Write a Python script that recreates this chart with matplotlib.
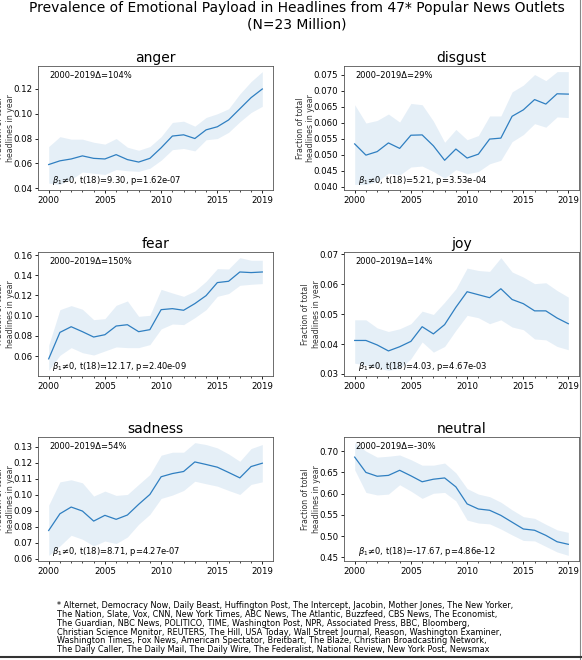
""" plot.py """

import matplotlib
matplotlib.use("Agg")
import matplotlib.pyplot as plt
from matplotlib.lines import Line2D
from matplotlib.ticker import FixedLocator, MultipleLocator

###################################################
# 1. Data
###################################################

years = list(range(2000, 2020))
emotions = ["anger", "disgust", "fear", "joy", "sadness", "neutral"]

anger_mean = [0.059, 0.062, 0.0635, 0.066, 0.064, 0.0635, 0.067, 0.063, 0.061, 0.064,
              0.0725, 0.082, 0.083, 0.080, 0.087, 0.0895, 0.095, 0.104, 0.113, 0.120]
anger_hi = [0.0735, 0.0815, 0.0795, 0.0795, 0.077, 0.0755, 0.080, 0.073, 0.0705, 0.0735,
            0.0815, 0.093, 0.094, 0.090, 0.097, 0.100, 0.104, 0.116, 0.126, 0.134]
anger_lo = [0.044, 0.043, 0.047, 0.053, 0.052, 0.051, 0.055, 0.054, 0.0535, 0.056,
            0.0625, 0.071, 0.072, 0.070, 0.079, 0.080, 0.085, 0.0935, 0.101, 0.106]

disgust_mean = [0.0534, 0.0499, 0.0510, 0.0537, 0.0520, 0.0561, 0.0562, 0.0528, 0.0483, 0.0518,
                0.0490, 0.0502, 0.0549, 0.0552, 0.0620, 0.0640, 0.0672, 0.0658, 0.0690, 0.0689]
disgust_hi = [0.0656, 0.0599, 0.0607, 0.0627, 0.0602, 0.0660, 0.0656, 0.0605, 0.0539, 0.0579,
              0.0547, 0.0560, 0.0621, 0.0621, 0.0696, 0.0717, 0.0750, 0.0731, 0.0759, 0.0759]
disgust_lo = [0.0408, 0.0408, 0.0416, 0.0443, 0.0437, 0.0462, 0.0465, 0.0448, 0.0427, 0.0454,
              0.0441, 0.0448, 0.0472, 0.0483, 0.0541, 0.0563, 0.0597, 0.0586, 0.0618, 0.0616]

fear_mean = [0.0572, 0.0834, 0.0890, 0.0841, 0.0788, 0.0811, 0.0897, 0.0910, 0.0841, 0.0861,
             0.1059, 0.1069, 0.1053, 0.1119, 0.1198, 0.1327, 0.1340, 0.1432, 0.1426, 0.1432]
fear_hi = [0.0706, 0.1059, 0.1099, 0.1063, 0.0960, 0.0970, 0.1102, 0.1145, 0.0993, 0.1003,
           0.1260, 0.1224, 0.1191, 0.1244, 0.1340, 0.1465, 0.1462, 0.1574, 0.1548, 0.1548]
fear_lo = [0.0458, 0.0607, 0.0683, 0.0633, 0.0610, 0.0650, 0.0690, 0.0683, 0.0683, 0.0713,
           0.0868, 0.0917, 0.0911, 0.0980, 0.1059, 0.1191, 0.1218, 0.1300, 0.1310, 0.1317]

joy_mean = [0.0412, 0.0412, 0.0397, 0.0377, 0.0391, 0.0409, 0.0458, 0.0434, 0.0465, 0.0523,
            0.0575, 0.0565, 0.0555, 0.0585, 0.0549, 0.0535, 0.0511, 0.0511, 0.0487, 0.0468]
joy_hi = [0.0481, 0.0481, 0.0454, 0.0442, 0.0451, 0.0468, 0.0510, 0.0499, 0.0540, 0.0585,
          0.0654, 0.0646, 0.0643, 0.0689, 0.0641, 0.0624, 0.0602, 0.0605, 0.0579, 0.0557]
joy_lo = [0.0336, 0.0330, 0.0320, 0.0312, 0.0318, 0.0351, 0.0407, 0.0373, 0.0392, 0.0446,
          0.0496, 0.0488, 0.0468, 0.0481, 0.0457, 0.0448, 0.0417, 0.0414, 0.0392, 0.0381]

sadness_mean = [0.0776, 0.0881, 0.0923, 0.0898, 0.0835, 0.0871, 0.0846, 0.0873, 0.0940, 0.1002,
                0.1113, 0.1133, 0.1146, 0.1206, 0.1190, 0.1173, 0.1140, 0.1106, 0.1177, 0.1198]
sadness_hi = [0.0935, 0.1081, 0.1094, 0.1075, 0.0992, 0.1023, 0.0996, 0.1002, 0.1065, 0.1127,
              0.1248, 0.1267, 0.1267, 0.1327, 0.1315, 0.1294, 0.1256, 0.1210, 0.1290, 0.1315]
sadness_lo = [0.0620, 0.0679, 0.0746, 0.0721, 0.0679, 0.0710, 0.0694, 0.0735, 0.0815, 0.0877,
              0.0977, 0.0998, 0.1027, 0.1085, 0.1069, 0.1054, 0.1027, 0.1002, 0.1065, 0.1081]

neutral_mean = [0.686, 0.650, 0.641, 0.643, 0.655, 0.642, 0.628, 0.634, 0.637, 0.616,
                0.576, 0.564, 0.561, 0.549, 0.533, 0.517, 0.514, 0.502, 0.487, 0.481]
neutral_hi = [0.720, 0.700, 0.686, 0.688, 0.691, 0.680, 0.667, 0.667, 0.672, 0.649,
              0.612, 0.599, 0.593, 0.580, 0.562, 0.546, 0.542, 0.528, 0.515, 0.509]
neutral_lo = [0.656, 0.603, 0.597, 0.599, 0.621, 0.606, 0.589, 0.601, 0.603, 0.583,
              0.538, 0.531, 0.529, 0.517, 0.503, 0.490, 0.489, 0.476, 0.463, 0.455]

delta_pct = [104, 29, 150, 14, 54, -30]
t_stats = ["9.30", "5.21", "12.17", "4.03", "8.71", "-17.67"]
p_values = ["1.62e-07", "3.53e-04", "2.40e-09", "4.67e-03", "4.27e-07", "4.86e-12"]

series = {
    "anger": (anger_mean, anger_lo, anger_hi),
    "disgust": (disgust_mean, disgust_lo, disgust_hi),
    "fear": (fear_mean, fear_lo, fear_hi),
    "joy": (joy_mean, joy_lo, joy_hi),
    "sadness": (sadness_mean, sadness_lo, sadness_hi),
    "neutral": (neutral_mean, neutral_lo, neutral_hi),
}

outlets_note = (
    "* Alternet, Democracy Now, Daily Beast, Huffington Post, The Intercept, Jacobin, Mother Jones, The New Yorker,\n"
    "The Nation, Slate, Vox, CNN, New York Times, ABC News, The Atlantic, Buzzfeed, CBS News, The Economist,\n"
    "The Guardian, NBC News, POLITICO, TIME, Washington Post, NPR, Associated Press, BBC, Bloomberg,\n"
    "Christian Science Monitor, REUTERS, The Hill, USA Today, Wall Street Journal, Reason, Washington Examiner,\n"
    "Washington Times, Fox News, American Spectator, Breitbart, The Blaze, Christian Broadcasting Network,\n"
    "The Daily Caller, The Daily Mail, The Daily Wire, The Federalist, National Review, New York Post, Newsmax"
)

###################################################
# 2. Figure and panels
###################################################

W, H = 582, 660
fig = plt.figure(figsize=(W / 100, H / 100), dpi=100)

line_color = "#2f7fc1"
col_left = [38 / W, 344 / W]
ax_w = 235 / W
row_bottom = [1 - 190 / H, 1 - 376 / H, 1 - 561 / H]
ax_h = 124 / H
ytick_step = {"anger": 0.02, "disgust": 0.005, "fear": 0.02,
              "joy": 0.01, "sadness": 0.01, "neutral": 0.05}

for i, emo in enumerate(emotions):
    row, col = divmod(i, 2)
    ax = fig.add_axes([col_left[col], row_bottom[row], ax_w, ax_h])
    mean, lo, hi = series[emo]
    ax.fill_between(years, lo, hi, color=line_color, alpha=0.12, linewidth=0)
    ax.plot(years, mean, color=line_color, linewidth=0.9)

    ax.set_title(emo, fontsize=10, pad=3)
    ax.set_ylabel("Fraction of total\nheadlines in year", fontsize=5.6, color="#333333",
                  labelpad=-1)
    ax.set_xlim(years[0] - 0.95, years[-1] + 0.95)
    ax.xaxis.set_major_locator(FixedLocator([2000, 2005, 2010, 2015, 2019]))
    ax.xaxis.set_minor_locator(MultipleLocator(1))
    ax.yaxis.set_major_locator(MultipleLocator(ytick_step[emo]))
    ax.tick_params(axis="both", which="major", labelsize=6.2, length=2.5, width=0.6, pad=1.5)
    ax.tick_params(axis="x", which="minor", length=1.5, width=0.5)
    for sp in ax.spines.values():
        sp.set_linewidth(0.6)
        sp.set_color("#555555")

    ax.text(0.05, 0.92, f"2000\u20132019\u0394={delta_pct[i]}%", transform=ax.transAxes,
            fontsize=6, ha="left", va="center")
    ax.text(0.06, 0.075, r"$\beta_1$" + f"\u22600, t(18)={t_stats[i]}, p={p_values[i]}",
            transform=ax.transAxes, fontsize=6, ha="left", va="center")

###################################################
# 3. Titles, footnote and crop borders
###################################################

fig.text(297 / W, 1 - 8 / H, "Prevalence of Emotional Payload in Headlines from 47* Popular News Outlets",
         fontsize=10, ha="center", va="center")
fig.text(297 / W, 1 - 24 / H, "(N=23 Million)", fontsize=10, ha="center", va="center")

fig.text(57 / W, 1 - 601 / H, outlets_note, fontsize=5.85, ha="left", va="top", linespacing=0.98)

fig.add_artist(Line2D([579.5 / W, 579.5 / W], [0, 1], transform=fig.transFigure,
                      color="#888888", linewidth=0.8))
fig.add_artist(Line2D([0, 1], [1 - 657 / H, 1 - 657 / H], transform=fig.transFigure,
                      color="#333333", linewidth=1.5))

fig.savefig("out.png", dpi=100)
